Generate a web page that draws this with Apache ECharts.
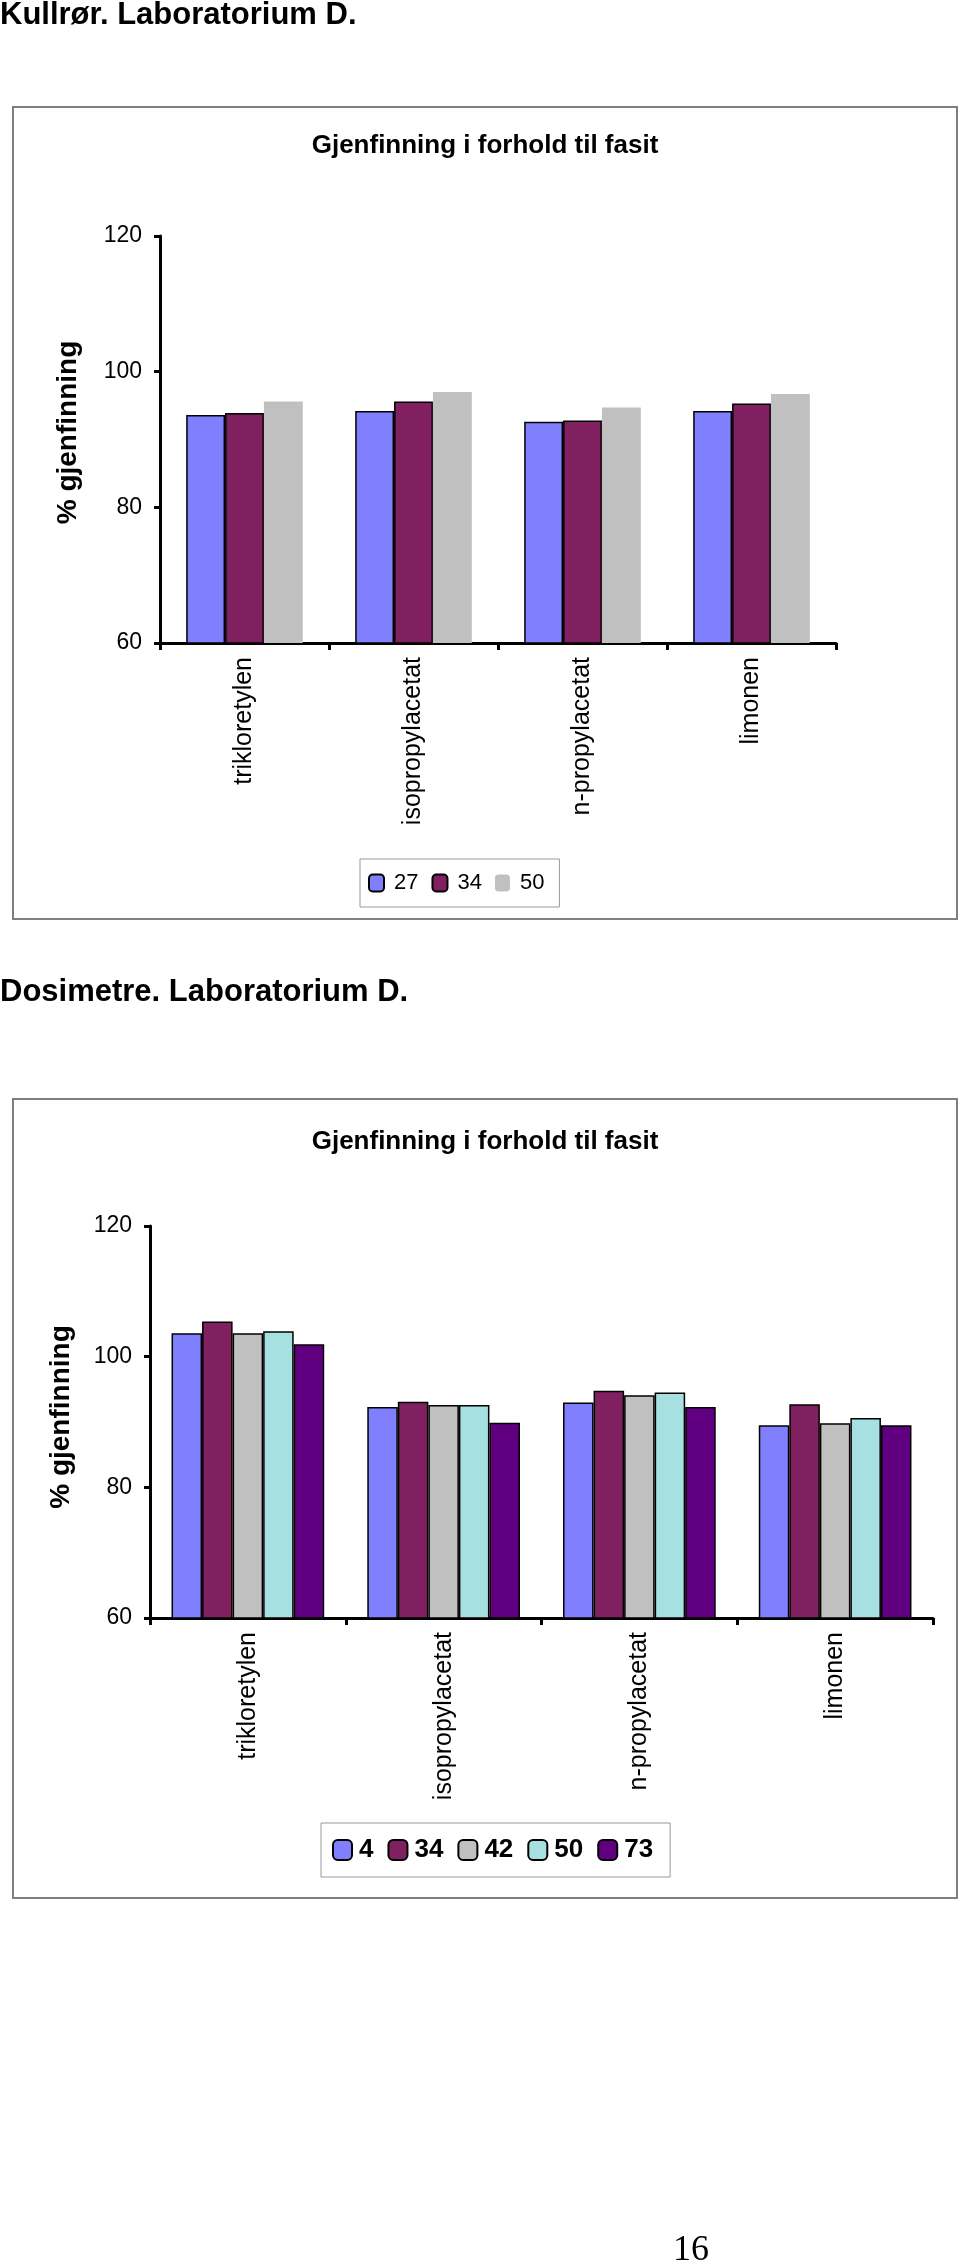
<!DOCTYPE html>
<html>
<head>
<meta charset="utf-8">
<script src="https://cdn.jsdelivr.net/npm/echarts@6/dist/echarts.min.js"></script>
<style>
  html, body { margin: 0; padding: 0; background: #fff; }
  #c1 { position: absolute; left: 0; top: 0; width: 960px; height: 930px; }
  #c2 { position: absolute; left: 0; top: 930px; width: 960px; height: 1337px; }
</style>
</head>
<body>
<div id="c1"></div>
<div id="c2"></div>
<script>
// ---- data ----
const categories = ['trikloretylen', 'isopropylacetat', 'n-propylacetat', 'limonen'];
const yTicks = [60, 80, 100, 120];

const kullNames = ['27', '34', '50'];
const kull27 = [93.6, 94.2, 92.6, 94.2];
const kull34 = [93.9, 95.6, 92.8, 95.3];
const kull50 = [95.6, 97.0, 94.7, 96.7];

const dosNames = ['4', '34', '42', '50', '73'];
const dos4  = [103.6, 92.3, 93.0, 89.5];
const dos34 = [105.4, 93.1, 94.8, 92.7];
const dos42 = [103.6, 92.6, 94.1, 89.8];
const dos50 = [103.9, 92.6, 94.5, 90.6];
const dos73 = [101.9, 89.9, 92.3, 89.5];

const pageTitle1 = 'Kullrør. Laboratorium D.';
const pageTitle2 = 'Dosimetre. Laboratorium D.';
const chartTitle = 'Gjenfinning i forhold til fasit';
const yName = '% gjenfinning';
const pageNumber = '16';

// ---- styles ----
const SANS = '"Liberation Sans", Arial, sans-serif';
const SERIF = '"Liberation Serif", "Times New Roman", serif';
const C_BLUE = '#8080FF', C_MAROON = '#802060', C_GRAY = '#C0C0C0', C_CYAN = '#A6E0E0', C_PURPLE = '#600080';

function xAxis() {
  return {
    type: 'category', data: categories,
    axisLine: { lineStyle: { color: '#000', width: 3 } },
    axisTick: { show: true, length: 7, lineStyle: { color: '#000', width: 3 } },
    axisLabel: { rotate: 90, margin: 14, fontFamily: SANS, fontSize: 25, color: '#000' }
  };
}
function yAxis(gap, shift) {
  return {
    type: 'value', min: yTicks[0], max: yTicks[yTicks.length - 1], interval: 20,
    name: yName, nameLocation: 'middle', nameGap: gap, nameRotate: 90,
    nameTextStyle: { fontFamily: SANS, fontWeight: 'bold', fontSize: 28, color: '#000', padding: [0, 0, 0, shift] },
    axisLine: { show: true, lineStyle: { color: '#000', width: 3 } },
    axisTick: { show: true, length: 6, lineStyle: { color: '#000', width: 3 } },
    axisLabel: { fontFamily: SANS, fontSize: 23, color: '#000', margin: 18 },
    splitLine: { show: false }
  };
}
function bar(name, data, color, border, catGap) {
  return {
    type: 'bar', name: name, data: data, barGap: '0%', barCategoryGap: catGap,
    itemStyle: { color: color, borderColor: border ? '#000' : color, borderWidth: border ? 1.5 : 0 },
    emphasis: { disabled: true }, animation: false
  };
}

// ---- chart 1 ----
const ch1 = echarts.init(document.getElementById('c1'), null, { renderer: 'canvas' });
ch1.setOption({
  animation: false,
  title: [
    { text: pageTitle1, left: 0, top: 0, padding: 0,
      textStyle: { fontFamily: SANS, fontWeight: 'bold', fontSize: 31, color: '#000' } },
    { text: chartTitle, left: 485, textAlign: 'center', top: 133, padding: 0,
      textStyle: { fontFamily: SANS, fontWeight: 'bold', fontSize: 26, color: '#000' } }
  ],
  graphic: [
    { type: 'rect', shape: { x: 13, y: 107, width: 944, height: 812 },
      style: { fill: 'none', stroke: '#808080', lineWidth: 2 }, silent: true }
  ],
  legend: {
    data: kullNames, left: 360, top: 859, orient: 'horizontal',
    padding: [13, 15, 13, 8], itemGap: 13, itemWidth: 15, itemHeight: 17,
    borderColor: '#999', borderWidth: 1,
    textStyle: { fontFamily: SANS, fontSize: 22, color: '#000', padding: [0, 0, 0, 5] },
    selectedMode: false
  },
  grid: { left: 160, top: 236, width: 676, height: 407, containLabel: false },
  xAxis: xAxis(),
  yAxis: yAxis(78, 14),
  series: [
    bar(kullNames[0], kull27, C_BLUE, true, '31%'),
    bar(kullNames[1], kull34, C_MAROON, true, '31%'),
    bar(kullNames[2], kull50, C_GRAY, false, '31%')
  ]
});

// ---- chart 2 ----
const ch2 = echarts.init(document.getElementById('c2'), null, { renderer: 'canvas' });
ch2.setOption({
  animation: false,
  title: [
    { text: pageTitle2, left: 0, top: 47, padding: 0,
      textStyle: { fontFamily: SANS, fontWeight: 'bold', fontSize: 31, color: '#000' } },
    { text: chartTitle, left: 485, textAlign: 'center', top: 199, padding: 0,
      textStyle: { fontFamily: SANS, fontWeight: 'bold', fontSize: 26, color: '#000' } }
  ],
  graphic: [
    { type: 'rect', shape: { x: 13, y: 169, width: 944, height: 799 },
      style: { fill: 'none', stroke: '#808080', lineWidth: 2 }, silent: true },
    { type: 'text', left: 673, top: 1303,
      style: { text: pageNumber, font: '36px ' + SERIF, fill: '#000' }, silent: true }
  ],
  legend: {
    data: dosNames, left: 321, top: 893, orient: 'horizontal',
    padding: [14, 17, 14, 11], itemGap: 14, itemWidth: 19, itemHeight: 20,
    borderColor: '#999', borderWidth: 1,
    textStyle: { fontFamily: SANS, fontWeight: 'bold', fontSize: 26, color: '#000', padding: [0, 0, 0, 2] },
    selectedMode: false
  },
  grid: { left: 150, top: 296, width: 783, height: 392, containLabel: false },
  xAxis: xAxis(),
  yAxis: yAxis(75, 10),
  series: [
    bar(dosNames[0], dos4, C_BLUE, true, '22%'),
    bar(dosNames[1], dos34, C_MAROON, true, '22%'),
    bar(dosNames[2], dos42, C_GRAY, true, '22%'),
    bar(dosNames[3], dos50, C_CYAN, true, '22%'),
    bar(dosNames[4], dos73, C_PURPLE, true, '22%')
  ]
});
</script>
</body>
</html>
